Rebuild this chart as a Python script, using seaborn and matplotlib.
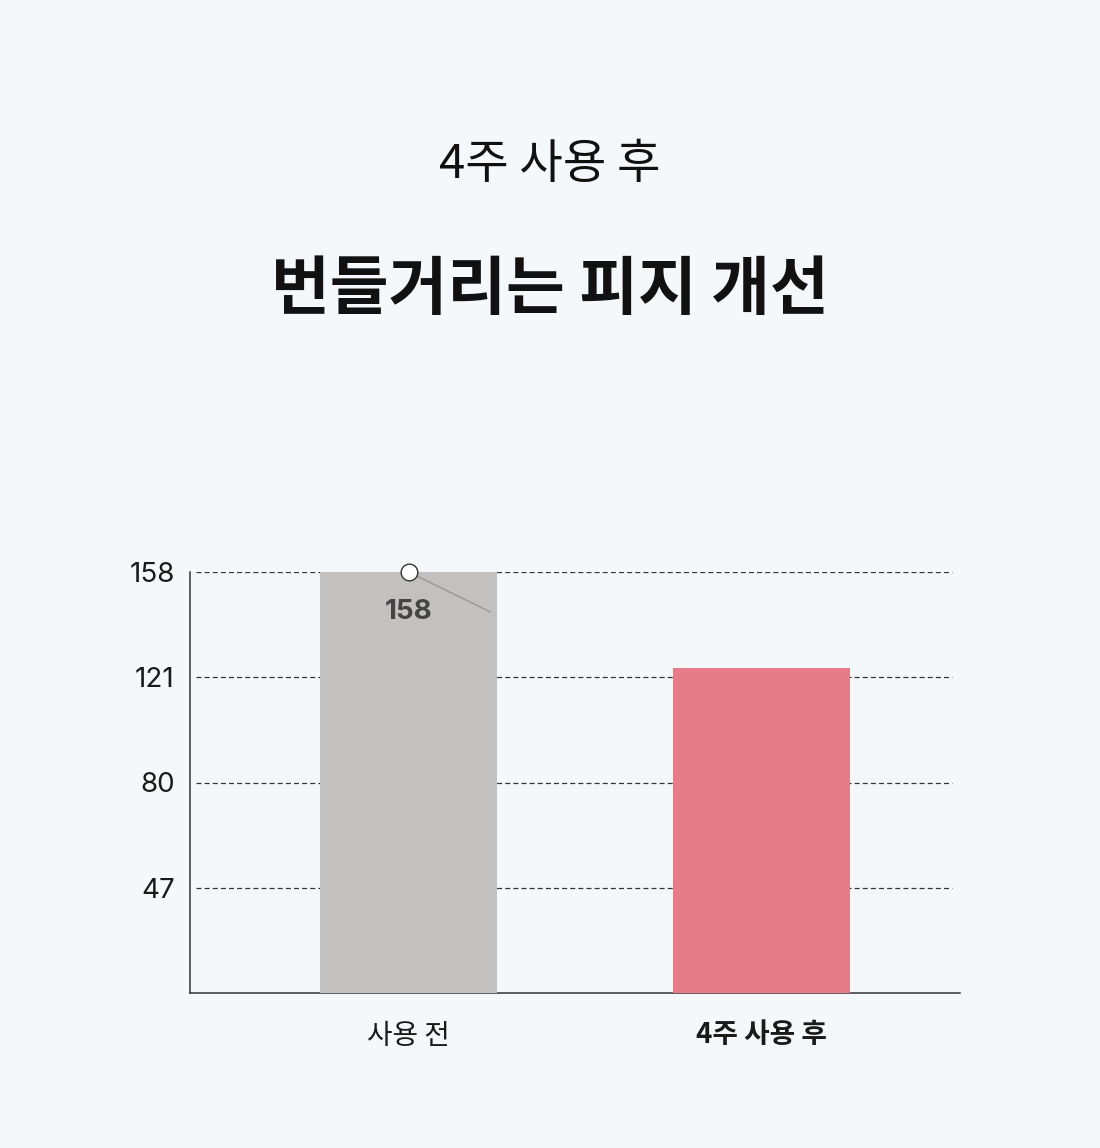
import matplotlib
matplotlib.use("Agg")
import matplotlib.pyplot as plt
import seaborn as sns
import pandas as pd

categories = ["사용 전", "4주 사용 후"]
values = [158, 122]
bar_colors = ["#C2C1BF", "#E67C89"]
tick_positions = [39.5, 79, 118.5, 158]
tick_labels = ["47", "80", "121", "158"]
subtitle = "4주 사용 후"
title = "번들거리는 피지 개선"
annot_label = "158"

sns.set_theme(style="white")
plt.rcParams['font.family'] = ['Noto Sans CJK KR', 'DejaVu Sans']
num_family = ['Inter', 'Noto Sans CJK KR', 'DejaVu Sans']
bg = "#F5F8FB"

fig = plt.figure(figsize=(11, 11.48), dpi=100, facecolor=bg)
ax = fig.add_axes([190/1100, 155/1148, 770/1100, 421/1148])
ax.set_facecolor(bg)

df = pd.DataFrame({"cat": categories, "val": values})
sns.barplot(data=df, x="cat", y="val", hue="cat", palette=bar_colors,
            width=0.5, legend=False, ax=ax, zorder=3, saturation=1,
            linewidth=0, edgecolor="none")
for p in ax.patches:
    p.set_clip_on(False)
    p.set_linewidth(0)

ax.set_xlim(-0.619, 1.562)
ax.set_ylim(0, 158)
ax.set_yticks(tick_positions)
ax.set_yticklabels(tick_labels, fontsize=20, color="#1a1a1a", family=num_family)
ax.set_xlabel("")
ax.set_ylabel("")
for yv in tick_positions:
    ax.axhline(yv, xmin=0.008, xmax=0.99, color="#333333", lw=0.9,
               ls=(0, (4, 2.5)), zorder=1)

ax.tick_params(axis="y", length=0, pad=11)
ax.tick_params(axis="x", length=0, pad=20)
xt = ax.get_xticklabels()
for i, t in enumerate(xt):
    t.set_fontsize(20)
    t.set_color("#1a1a1a")
    if i == 1:
        t.set_fontweight("bold")

for s in ["top", "right"]:
    ax.spines[s].set_visible(False)
for s in ["left", "bottom"]:
    ax.spines[s].set_color("#333333")
    ax.spines[s].set_linewidth(1.1)

# annotation for the first bar
ax.plot([0, 0.232], [values[0], values[0] - 15], color="#999999", lw=1,
        zorder=5, clip_on=False)
ax.plot([0], [values[0]], marker="o", ms=12, mfc="white", mec="#333333",
        mew=1, zorder=6, clip_on=False)
ax.text(0, values[0] - 15, annot_label, ha="center", va="center",
        fontsize=20, fontweight="bold", color="#444444", zorder=6,
        family=num_family)

fig.text(0.5, 1 - 165/1148, subtitle, ha="center", va="center",
         fontsize=34, color="#111111")
fig.text(0.5, 1 - 290/1148, title, ha="center", va="center",
         fontsize=46, fontweight="bold", color="#111111")

fig.savefig("out.png", dpi=100, facecolor=bg)
